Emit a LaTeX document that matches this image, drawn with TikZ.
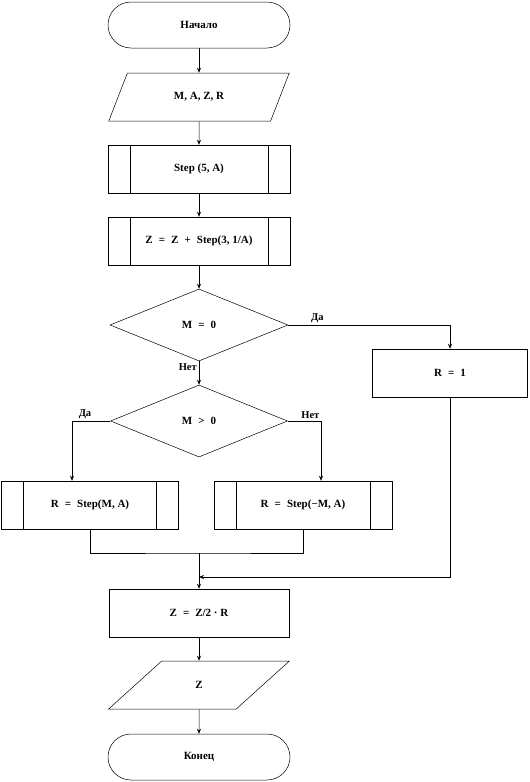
\documentclass[tikz,border=0pt]{standalone}
\usepackage{fontspec}
\setmainfont{Liberation Serif}
\usetikzlibrary{shapes.geometric,arrows.meta}
\newcommand\opsp[1]{\hspace{.55em}#1\hspace{.55em}}
\begin{document}
\begin{tikzpicture}[x=1pt,y=-1pt]
\tikzset{
    base/.style={draw, line width=0.5pt, font=\bfseries\fontsize{11}{13}\selectfont, inner sep=0pt, minimum height=48},
    term/.style={base, rectangle, rounded corners=23, minimum width=182, minimum height=46},
    io/.style={base, trapezium, trapezium left angle=54, trapezium right angle=126, trapezium stretches=true, minimum width=181},
    proc/.style={base, rectangle, minimum width=#1},
    proc/.default=182,
    sub/.style={proc=#1, path picture={
        \draw ([xshift=\ins]path picture bounding box.north west) -- ([xshift=\ins]path picture bounding box.south west);
        \draw ([xshift=-\ins]path picture bounding box.north east) -- ([xshift=-\ins]path picture bounding box.south east);}},
    sub/.default=182,
    cond/.style={base, diamond, aspect=2.5, minimum width=178, minimum height=72},
    lbl/.style={font=\bfseries\fontsize{10.5}{12}\selectfont, inner sep=2pt},
    conn/.style={line width=0.5pt},
    arr/.style={conn, -{Stealth[length=5pt,width=4pt]}}}
\def\ins{22pt}

\useasboundingbox (0,0) rectangle (530,782);

\node[term] (start) at (199,25) {Начало};
\node[io] (inp) at (199,97) {M, A, Z, R};
\node[sub] (s1) at (199,169) {Step (5, A)};
\node[sub] (s2) at (199,241) {Z\opsp{=}Z\opsp{+}Step(3, 1/A)};
\node[cond] (c1) at (199,325) {M\opsp{=}0};
\node[proc=155] (r1) at (450,373) {R\opsp{=}1};
\node[cond, minimum width=177] (c2) at (199,421) {M\opsp{>}0};
\node[sub=177] (lb) at (90,505) {R\opsp{=}Step(M, A)};
\node[sub=178] (rb) at (303,505) {R\opsp{=}Step(−M, A)};
\node[proc=180] (calc) at (199,613) {Z\opsp{=}Z/2 · R};
\node[io] (out) at (199,685) {Z};
\node[term] (stop) at (199,757) {Конец};

\coordinate (mrg) at (199,553);
\coordinate (jn) at (199,577);

\draw[arr] (start) -- (inp);
\draw[arr] (inp) -- (s1);
\draw[arr] (s1) -- (s2);
\draw[arr] (s2) -- (c1);
\draw[arr] (c1.east) -| node[lbl, pos=0.09, above] (yes1) {Да} (r1.north);
\draw[arr] (c1) -- node[lbl, pos=0.25, left] (no1) {Нет} (c2);
\draw[arr] (c2.west) -| node[lbl, pos=0.33, above] (yes2) {Да} ([xshift=-18]lb.north);
\draw[arr] (c2.east) -| node[lbl, pos=0.34, above] (no2) {Нет} ([xshift=18]rb.north);
\draw[conn] (lb.south) |- (mrg) -| (rb.south);
\draw[arr] (mrg) -- (calc);
\draw[arr] (r1.south) |- (jn);
\draw[arr] (calc) -- (out);
\draw[arr] (out) -- (stop);
\end{tikzpicture}
\end{document}
